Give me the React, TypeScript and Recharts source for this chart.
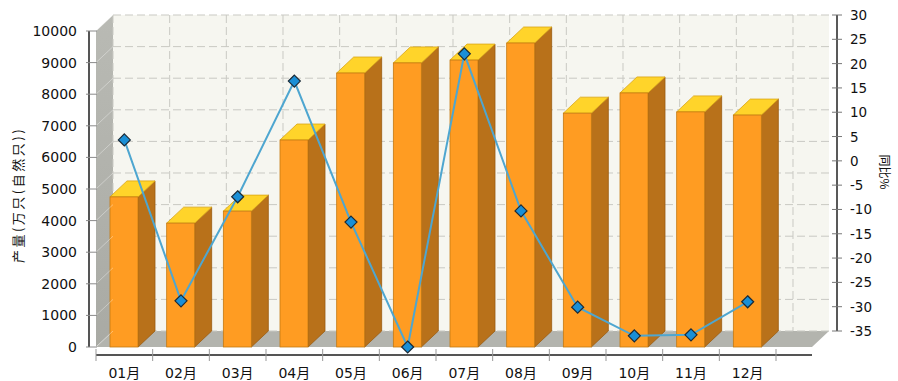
import React from "react";
import {
  ComposedChart,
  Bar,
  Line,
  XAxis,
  YAxis,
  CartesianGrid,
} from "recharts";

// months, output (万只) and year-on-year change (%)
const categories = ["01月", "02月", "03月", "04月", "05月", "06月", "07月", "08月", "09月", "10月", "11月", "12月"];
const output = [4750, 3920, 4300, 6550, 8670, 8990, 9080, 9620, 7400, 8040, 7440, 7340];
const yoy = [7.6, -25.5, -4.1, 19.7, -9.3, -35, 25.3, -7, -26.8, -32.7, -32.5, -25.7];
const leftTicks = [0, 1000, 2000, 3000, 4000, 5000, 6000, 7000, 8000, 9000, 10000];
const rightTicks = [-35, -30, -25, -20, -15, -10, -5, 0, 5, 10, 15, 20, 25, 30];

const data = categories.map((month, i) => ({ month, output: output[i], yoy: yoy[i] }));

const W = 898;
const H = 381;
// 3d depth of the box
const DX = 17;
const DY = -16;
const PAD_RIGHT = 36;
const FONT = '"DejaVu Sans", "Noto Sans CJK SC", sans-serif';
const CJK = '"Noto Sans CJK SC", sans-serif';

// plot area (set by margins + axis widths below)
const L = 96;
const R = 812;
const T = 31;
const B = 347;

const Bar3D = (props: any) => {
  const { x, y, width, height } = props;
  if (!width || height == null) return null;
  return (
    <g>
      <polygon
        points={`${x + width},${y} ${x + width + DX},${y + DY} ${x + width + DX},${y + height + DY} ${x + width},${y + height}`}
        fill="#b8711a"
        stroke="#9a5c10"
        strokeWidth={0.8}
      />
      <polygon
        points={`${x},${y} ${x + DX},${y + DY} ${x + width + DX},${y + DY} ${x + width},${y}`}
        fill="#ffd42a"
        stroke="#d9a514"
        strokeWidth={0.8}
      />
      <rect x={x} y={y} width={width} height={height} fill="#ff9c22" stroke="#c47a12" strokeWidth={0.8} />
    </g>
  );
};

const Diamond = (props: any) => {
  const { cx, cy } = props;
  if (cx == null || cy == null) return null;
  const r = 6;
  return (
    <polygon
      points={`${cx},${cy - r} ${cx + r},${cy} ${cx},${cy + r} ${cx - r},${cy}`}
      fill="#1a8fd6"
      stroke="#1b2a36"
      strokeWidth={1.2}
    />
  );
};

const LeftTick = (props: any) => {
  const { x, y, payload } = props;
  return (
    <g>
      <line x1={x + 0} y1={y} x2={x + DX} y2={y + DY} stroke="#ffffff" strokeOpacity={0.35} />
      <line x1={x - 10} y1={y} x2={x + 1} y2={y} stroke="#8a8a8a" strokeWidth={1} />
      <text x={x - 19} y={y} dy={5} textAnchor="end" fontSize={14} fontFamily={FONT} fill="#111">
        {payload.value}
      </text>
    </g>
  );
};

const RightTick = (props: any) => {
  const { x, y, payload } = props;
  const ax = x + 25;
  return (
    <g>
      <line x1={ax - 5} y1={y + DY} x2={ax + 5} y2={y + DY} stroke="#777" strokeWidth={1} />
      <text x={ax + 13} y={y + DY} dy={5} textAnchor="start" fontSize={13.5} fontFamily={FONT} fill="#111">
        {payload.value}
      </text>
    </g>
  );
};

const MonthTick = (props: any) => {
  const { x, y, payload, index, visibleTicksCount } = props;
  const half = payload.offset || 0;
  const last = index === (visibleTicksCount ?? categories.length) - 1;
  return (
    <g>
      <line x1={x - half} y1={y + 2} x2={x - half} y2={y + 14} stroke="#999" strokeWidth={1} />
      {last && <line x1={x + half} y1={y + 2} x2={x + half} y2={y + 14} stroke="#999" strokeWidth={1} />}
      <text x={x} y={y + 31} textAnchor="middle" fontSize={14} fontFamily={FONT} fill="#111">
        {payload.value}
      </text>
    </g>
  );
};

function Decor() {
  return (
    <svg width={W} height={H} style={{ position: "absolute", left: 0, top: 0 }}>
      <defs>
        <linearGradient id="wallL" x1="0" y1="0" x2="0" y2="1">
          <stop offset="0" stopColor="#b9bab4" />
          <stop offset="1" stopColor="#a9aaa4" />
        </linearGradient>
      </defs>
      {/* back wall */}
      <rect x={L + DX} y={T + DY} width={R - L} height={B - T} fill="#f6f6f0" />
      {/* left wall */}
      <polygon points={`${L},${T} ${L + DX},${T + DY} ${L + DX},${B + DY} ${L},${B}`} fill="url(#wallL)" />
      {/* floor */}
      <polygon points={`${L},${B} ${L + DX},${B + DY} ${R + DX},${B + DY} ${R},${B}`} fill="#b3b4ae" />
      {/* axis lines */}
      <line x1={L - 7} y1={T} x2={L - 7} y2={B} stroke="#555" strokeWidth={2} />
      <line x1={L} y1={B + 8} x2={R} y2={B + 8} stroke="#555" strokeWidth={2} />
      <line x1={R + 25} y1={T + DY} x2={R + 25} y2={B + DY} stroke="#222" strokeWidth={1.5} />
      {/* axis titles */}
      <text
        transform="translate(17,195) rotate(-90)"
        textAnchor="middle"
        dominantBaseline="central"
        fontSize={13}
        letterSpacing={2.5}
        fontFamily={CJK}
        fill="#111"
      >
        产量(万只(自然只))
      </text>
      <text
        transform="translate(885,172) rotate(90)"
        textAnchor="middle"
        dominantBaseline="central"
        fontSize={12}
        fontFamily={CJK}
        fill="#111"
      >
        同比%
      </text>
    </svg>
  );
}

export default function App() {
  const boundaries = (args: any) => {
    const off = args && args.offset ? args.offset : { left: L, width: R - L };
    const band = (off.width - PAD_RIGHT) / categories.length;
    return categories.map((_, i) => off.left + i * band).concat(off.left + categories.length * band);
  };

  return (
    <div style={{ position: "relative", width: W, height: H }}>
      <style>{`body{margin:0}.recharts-cartesian-grid{transform:translate(${DX}px,${DY}px)}`}</style>
      <Decor />
      <div style={{ position: "absolute", left: 0, top: 0 }}>
        <ComposedChart width={W} height={H} data={data} margin={{ top: T, right: 26, bottom: 4, left: 36 }}>
          <CartesianGrid
            yAxisId="left"
            stroke="#c9c9c3"
            strokeDasharray="8 4"
            verticalCoordinatesGenerator={boundaries}
          />
          <XAxis
            dataKey="month"
            height={30}
            padding={{ left: 0, right: PAD_RIGHT }}
            axisLine={false}
            tickLine={false}
            tickSize={0}
            tickMargin={0}
            interval={0}
            tick={<MonthTick />}
          />
          <YAxis
            yAxisId="left"
            orientation="left"
            width={60}
            domain={[0, 10000]}
            ticks={leftTicks}
            interval={0}
            axisLine={false}
            tickLine={false}
            tickSize={0}
            tickMargin={0}
            tick={<LeftTick />}
          />
          <YAxis
            yAxisId="right"
            orientation="right"
            width={60}
            domain={[-35, 30]}
            ticks={rightTicks}
            interval={0}
            axisLine={false}
            tickLine={false}
            tickSize={0}
            tickMargin={0}
            tick={<RightTick />}
          />
          <Bar
            yAxisId="left"
            dataKey="output"
            barSize={28}
            shape={<Bar3D />}
            isAnimationActive={false}
          />
          <Line
            yAxisId="right"
            dataKey="yoy"
            type="linear"
            stroke="#4ea6d0"
            strokeWidth={2}
            dot={<Diamond />}
            activeDot={false}
            isAnimationActive={false}
          />
        </ComposedChart>
      </div>
    </div>
  );
}
